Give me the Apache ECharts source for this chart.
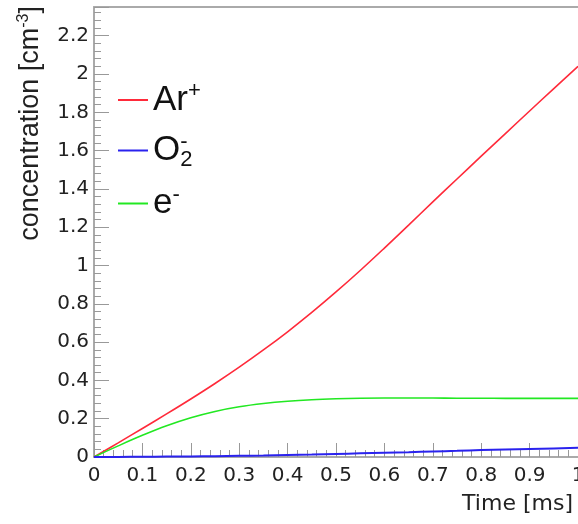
<!DOCTYPE html>
<html><head><meta charset="utf-8">
<script src="https://cdn.jsdelivr.net/npm/echarts@6/dist/echarts.min.js"></script>
<style>html,body{margin:0;padding:0;background:#fff}#c{width:578px;height:524px}</style>
</head><body><div id="c"></div>
<script>
var times = [0,0.05,0.1,0.15,0.2,0.25,0.3,0.35,0.4,0.45,0.5,0.55,0.6,0.65,0.7,0.75,0.8,0.85,0.9,0.95,1.0];
var arPlus = [0,0.074,0.149,0.225,0.303,0.384,0.469,0.559,0.654,0.755,0.862,0.974,1.091,1.211,1.332,1.452,1.571,1.689,1.807,1.924,2.04];
var o2Minus = [0,0.0005,0.001,0.002,0.003,0.004,0.006,0.008,0.011,0.013,0.016,0.019,0.022,0.025,0.029,0.032,0.036,0.039,0.042,0.045,0.048];
var eMinus = [0,0.058,0.113,0.163,0.205,0.238,0.262,0.279,0.291,0.299,0.304,0.307,0.308,0.308,0.308,0.307,0.307,0.306,0.306,0.306,0.306];
var xTicks = {min:0, max:1, step:0.1};
var yTicks = {min:0, max:2.35, step:0.2};

function pairs(v){ return times.map(function(t,i){return [t, v[i]];}); }
var tickFont = 'DejaVu Sans';
var chart = echarts.init(document.getElementById('c'), null, {renderer:'canvas'});
chart.setOption({
  animation:false,
  backgroundColor:'#fff',
  grid:{left:94, right:0, top:7, bottom:67, outerBoundsMode:'none', containLabel:false},
  xAxis:[{
    type:'value', min:xTicks.min, max:xTicks.max, interval:xTicks.step,
    axisLine:{show:true, lineStyle:{color:'#aaa', width:2}},
    axisTick:{show:true, inside:true, length:14, lineStyle:{color:'#999', width:1}},
    minorTick:{show:true, splitNumber:5, length:7, lineStyle:{color:'#999', width:1}},
    splitLine:{show:false},
    axisLabel:{margin:9, fontFamily:tickFont, fontSize:20, color:'#222',
      formatter:function(v){return String(Math.round(v*10)/10);}}
  },{
    type:'value', position:'top', min:0, max:1,
    axisLine:{show:true, lineStyle:{color:'#aaa', width:2}},
    axisTick:{show:false}, axisLabel:{show:false}, splitLine:{show:false}
  }],
  yAxis:{
    type:'value', min:yTicks.min, max:yTicks.max, interval:yTicks.step,
    axisLine:{show:true, lineStyle:{color:'#aaa', width:2}},
    axisTick:{show:true, inside:true, length:15, lineStyle:{color:'#999', width:1}},
    minorTick:{show:true, splitNumber:5, length:7, lineStyle:{color:'#999', width:1}},
    splitLine:{show:false},
    axisLabel:{margin:5, fontFamily:tickFont, fontSize:20, color:'#222', showMaxLabel:false,
      formatter:function(v){return String(Math.round(v*10)/10);}}
  },
  legend:{
    orient:'vertical', left:113, top:75, itemGap:13, itemWidth:30, itemHeight:2,
    icon:'rect',
    data:['Ar+','O2-','e-'],
    formatter:function(n){
      if(n==='Ar+') return '{b|Ar}{sup|+}';
      if(n==='O2-') return '{b|O}{sup2|-}{sub|2}';
      return '{b|e}{sup|-}';
    },
    textStyle:{
      rich:{
        b:{fontFamily:'Liberation Sans', fontSize:35, color:'#111', lineHeight:40},
        sup:{fontFamily:'Liberation Sans', fontSize:22, color:'#111', verticalAlign:'top', lineHeight:22},
        sup2:{fontFamily:'Liberation Sans', fontSize:22, color:'#111', verticalAlign:'top', lineHeight:22, width:0},
        sub:{fontFamily:'Liberation Sans', fontSize:22, color:'#111', verticalAlign:'bottom', lineHeight:22}
      }
    }
  },
  series:[
    {name:'Ar+', type:'line', data:pairs(arPlus), showSymbol:false, symbol:'none', smooth:0.4, lineStyle:{color:'#ff2a3a', width:1.6}, itemStyle:{color:'#ff2a3a'}, z:3},
    {name:'O2-', type:'line', data:pairs(o2Minus), showSymbol:false, symbol:'none', smooth:0.4, lineStyle:{color:'#2a22ee', width:2}, itemStyle:{color:'#2a22ee'}, z:4},
    {name:'e-', type:'line', data:pairs(eMinus), showSymbol:false, symbol:'none', smooth:0.4, lineStyle:{color:'#22e822', width:1.6}, itemStyle:{color:'#22e822'}, z:3}
  ],
  graphic:[
    {type:'text', right:5, top:493, style:{text:'Time [ms]', fontFamily:tickFont, fontSize:22, fill:'#222'}},
    {type:'text', x:31, y:6, rotation:Math.PI/2,
      style:{text:'{n|concentration [cm}{s|-3}{n|]}', align:'right', verticalAlign:'middle',
        rich:{n:{fontFamily:'Liberation Sans', fontSize:27, fill:'#222', lineHeight:30},
              s:{fontFamily:'Liberation Sans', fontSize:16, fill:'#222', verticalAlign:'top', lineHeight:16}}}}
  ]
});
</script></body></html>
